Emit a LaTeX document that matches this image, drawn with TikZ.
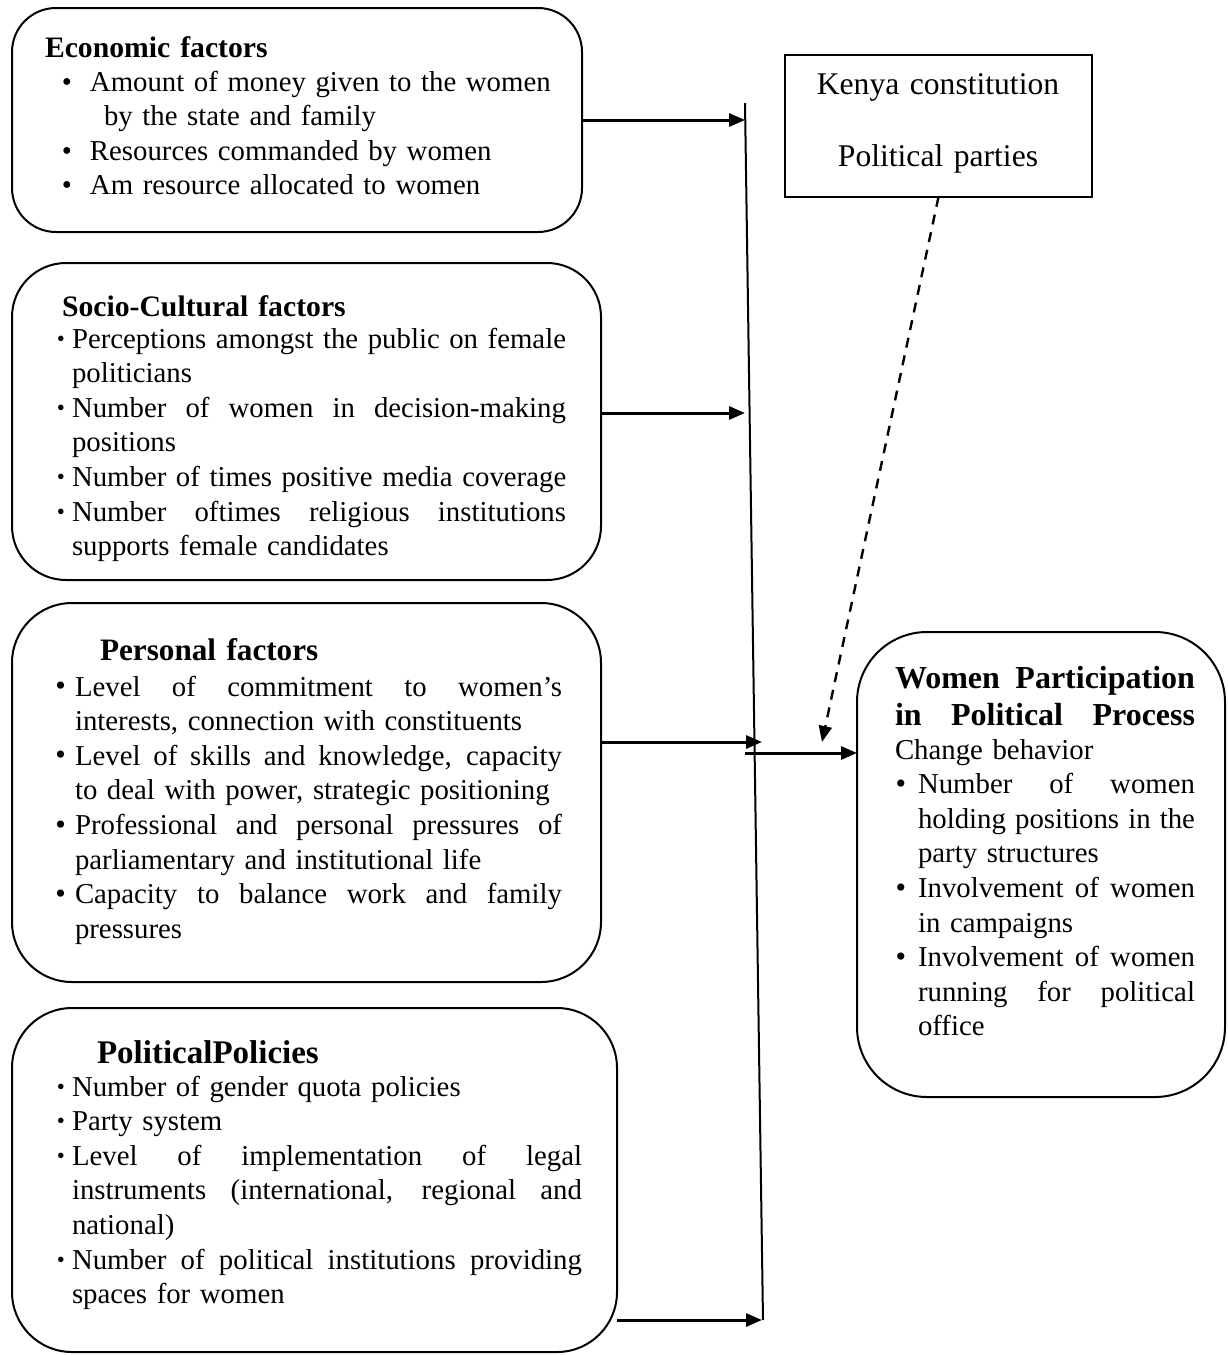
\documentclass[tikz,border=0pt]{standalone}
\usepackage{fontspec}
\setmainfont{Liberation Serif}
\usetikzlibrary{arrows.meta}
\newcommand\jl[1]{\leavevmode\hbox to \hsize{\spaceskip=0.25em plus 1fil minus 0.08em\relax #1}}
\newcommand\nl[1]{\leavevmode\hbox{#1}}
\newcommand\bulA{\leavevmode\llap{\textbullet\hspace{9pt}}}
\newcommand\bulB{\leavevmode\llap{\raisebox{1.0pt}{\fontsize{11.5}{11.5}\selectfont\textbullet}\hspace{3.5pt}}}
\newcommand\bulC[1]{\leavevmode\llap{\raisebox{0.2pt}{\fontsize{15}{15}\selectfont\textbullet}\hspace{#1}}}
\tikzset{
  rbox/.style={draw, line width=1pt, inner sep=0pt, outer sep=0pt},
  txt/.style={anchor=base west, inner sep=0pt, outer sep=0pt, align=left},
  ttl/.style={txt, font=\fontsize{14.85}{17.3}\selectfont\bfseries},
  arr/.style={line width=1.5pt, -{Triangle[length=8pt,width=6.5pt]}},
  vline/.style={line width=1pt},
  dsh/.style={line width=1.2pt, dash pattern=on 5pt off 4pt, -{Triangle[length=8pt,width=6.5pt]}}
}
\begin{document}
\begin{tikzpicture}[x=0.5pt,y=-0.5pt,font=\fontsize{14.4}{17.3}\selectfont]
\useasboundingbox (0,0) rectangle (1227,1355);

% boxes
\node[rbox, rounded corners=22pt, minimum width=285pt, minimum height=112pt] (eco) at (297,120) {};
\node[rbox, rounded corners=27pt, minimum width=294.5pt, minimum height=158.5pt] (soc) at (306.5,421.5) {};
\node[rbox, rounded corners=30pt, minimum width=294.5pt, minimum height=189.5pt] (per) at (306.5,792.5) {};
\node[rbox, rounded corners=30pt, minimum width=302.5pt, minimum height=172pt] (pol) at (314.5,1180) {};
\node[rbox, rounded corners=35pt, minimum width=184pt, minimum height=232.5pt] (wom) at (1041,864.5) {};
\node[rbox, minimum width=153.5pt, minimum height=71pt] (ken) at (938.5,126) {};

% Kenya text
\node[anchor=base, inner sep=0pt, align=center, font=\fontsize{15.8}{36}\selectfont, text width=150pt] (kenT) at (938,94) {Kenya constitution\\Political parties};

% Economic
\node[ttl, text width=200pt] (ecoT) at (45,57) {Economic factors};
\node[txt, text width=250pt] (ecoB) at (90,91) {\bulA Amount of money given to the women\\
\hspace*{7pt}by the state and family\\
\bulA Resources commanded by women\\
\bulA Am resource allocated to women};

% Socio-cultural
\node[ttl, text width=200pt] (socT) at (62,316) {Socio-Cultural factors};
\node[txt, text width=247pt] (socB) at (72,348) {\bulB\jl{Perceptions amongst the public on female}\\
politicians\\
\bulB\jl{Number of women in decision-making}\\
positions\\
\bulB\nl{Number of times positive media coverage}\\
\bulB\jl{Number oftimes religious institutions}\\
supports female candidates};

% Personal
\node[txt, text width=200pt, font=\fontsize{15.6}{18}\selectfont\bfseries] (perT) at (100,660) {Personal factors};
\node[txt, text width=243.5pt] (perB) at (75,696) {\bulC{4.5pt}\jl{Level of commitment to women’s}\\
\nl{interests, connection with constituents}\\
\bulC{4.5pt}\jl{Level of skills and knowledge, capacity}\\
\nl{to deal with power, strategic positioning}\\
\bulC{4.5pt}\jl{Professional and personal pressures of}\\
\nl{parliamentary and institutional life}\\
\bulC{4.5pt}\jl{Capacity to balance work and family}\\
pressures};

% Political policies
\node[txt, text width=200pt, font=\fontsize{16.5}{18}\selectfont\bfseries] (polT) at (97,1063) {PoliticalPolicies};
\node[txt, text width=255pt] (polB) at (72,1096) {\bulB\nl{Number of gender quota policies}\\
\bulB Party system\\
\bulB\jl{Level of implementation of legal}\\
\jl{instruments (international, regional and}\\
national)\\
\bulB\jl{Number of political institutions providing}\\
\nl{spaces for women}};

% Women participation
\node[txt, text width=150pt, font=\fontsize{16}{18.5}\selectfont\bfseries] (womT) at (895,688) {\jl{Women Participation}\\
\jl{in Political Process}};
\node[txt, text width=138.5pt] (womB) at (918,759) {\hspace*{-11.5pt}Change behavior\\
\bulC{6pt}\jl{Number of women}\\
\jl{holding positions in the}\\
party structures\\
\bulC{6pt}\jl{Involvement of women}\\
in campaigns\\
\bulC{6pt}\jl{Involvement of women}\\
\jl{running for political}\\
office};

% connectors
\coordinate (vt) at (745,103);
\coordinate (vb) at (763,1320);
\coordinate (t1) at (745,120);
\coordinate (t2) at (745,413);
\coordinate (t3) at (762,742);
\coordinate (t4) at (762,1320);
\coordinate (h1) at (745,753);
\coordinate (t5) at (822,742);

\draw[vline] (vt) -- (vb);
\draw[arr] (eco.east |- t1) -- (t1);
\draw[arr] (soc.east |- t2) -- (t2);
\draw[arr] (per.east |- t3) -- (t3);
\draw[arr] (pol.east |- t4) -- (t4);
\draw[arr] (h1) -- (h1 -| wom.west);
\draw[dsh] (ken.south) -- (t5);
\end{tikzpicture}
\end{document}
